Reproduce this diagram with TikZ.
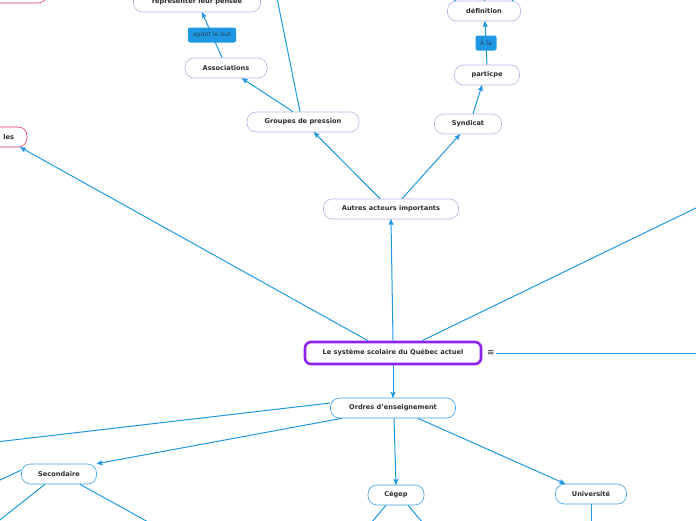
\documentclass[tikz,border=0pt]{standalone}
\usepackage{fontspec}
\setmainfont{DejaVu Sans}
\usetikzlibrary{arrows}
\definecolor{lineblue}{RGB}{30,152,226}
\definecolor{lavender}{RGB}{184,178,226}
\definecolor{boxblue}{RGB}{58,160,226}
\definecolor{hotpink}{RGB}{226,51,107}
\definecolor{violet}{RGB}{142,34,232}
\definecolor{ink}{RGB}{45,45,50}

\begin{document}
\begin{tikzpicture}[x=1pt, y=-1pt,
 topic/.style={draw=lavender, line width=.6pt, rounded corners=9pt, fill=white, minimum height=20pt, inner sep=0pt, text=ink, font=\bfseries\fontsize{6.6}{7}\selectfont},
 order/.style={topic, draw=boxblue},
 tag/.style={fill=lineblue, rounded corners=2pt, minimum height=15pt, inner sep=0pt, text=ink!80!lineblue, font=\fontsize{6.2}{7}\selectfont},
 link/.style={draw=lineblue, line width=1pt},
 arrow/.style={link, ->, >=stealth'}]
\useasboundingbox (0,0) rectangle (696,520);
\clip (0,0) rectangle (696,520);

% main topic
\node[topic, draw=violet, line width=2.6pt, rounded corners=6pt, minimum width=176pt, minimum height=22pt] (main) at (393,353) {Le système scolaire du Québec actuel};
\node[text=ink, font=\fontsize{9}{9}\selectfont, inner sep=1pt] (menu) at (491,353) {≡};
\coordinate (rightend) at (700,353);
\coordinate (upright) at (700,206);

% other actors
\node[topic, minimum width=135pt] (autres) at (391,209) {Autres acteurs importants};
\node[topic, minimum width=112pt] (groupes) at (303,122) {Groupes de pression};
\node[topic, minimum width=82pt] (assoc) at (226,68) {Associations};
\node[topic, minimum width=127pt] (penser) at (197,2) {représenter leur pensée};
\node[topic, minimum width=67pt] (syndicat) at (468,124) {Syndicat};
\node[topic, minimum width=65pt] (particpe) at (487,75) {particpe};
\node[topic, minimum width=73pt] (definition) at (484,11) {définition};
\node[topic, draw=hotpink, minimum width=114pt, text width=104pt, align=right] (ies) at (-30,137) {les\hspace*{8pt}};
\node[topic, draw=hotpink, minimum width=110pt] (toppink) at (-8,-7) {};
\coordinate (grouptop) at (277,-2);
\foreach \x/\n in {436/a,484/b,526/c}
 \coordinate (deftop\n) at (\x,-8);

% orders
\node[order, minimum width=125pt] (ordres) at (393,408) {Ordres d'enseignement};
\node[order, minimum width=75pt] (second) at (59,474) {Secondaire};
\node[order, minimum width=56pt] (cegep) at (396,495) {Cégep};
\node[order, minimum width=71pt] (univ) at (591,494) {Université};
\coordinate (ordleft) at (-4,442);
\coordinate (secleft) at (-4,482);
\coordinate (secdownl) at (-4,523);
\coordinate (secdownr) at (150,523);
\coordinate (cegdownl) at (371,523);
\coordinate (cegdownr) at (423,523);
\coordinate (univdown) at (591,523);

% connectors
\draw[arrow] (main.north) -- (autres.south);
\draw[arrow] ([xshift=-25pt]main.north) -- ([xshift=-7pt]ies.south east);
\draw[link] ([xshift=29pt]main.north) -- (upright);
\draw[link] (menu.east) -- (rightend);
\draw[arrow] (main.south) -- (ordres.north);

\draw[arrow] ([xshift=-11pt]autres.north) -- ([xshift=11pt]groupes.south);
\draw[arrow] ([xshift=11pt]autres.north) -- ([xshift=-8pt]syndicat.south);
\draw[arrow] ([xshift=-10pt]groupes.north) -- ([xshift=16pt]assoc.south);
\draw[link] ([xshift=-3pt]groupes.north) -- (grouptop);
\draw[arrow] ([xshift=-4pt]assoc.north) -- node[tag, minimum width=48pt] (but) {ayant le but} ([xshift=5pt]penser.south);
\draw[arrow] ([xshift=5pt]syndicat.north) -- ([xshift=-5pt]particpe.south);
\draw[arrow] (particpe.north) -- node[tag, minimum width=21pt] (ala) {À la} ([xshift=1pt]definition.south);
\draw[link] ([xshift=-28pt]definition.north) -- (deftopa);
\draw[link] (definition.north) -- (deftopb);
\draw[link] ([xshift=28pt]definition.north) -- (deftopc);

\draw[link] ([yshift=5pt]ordres.west) -- (ordleft);
\draw[arrow] ([xshift=-51pt]ordres.south) -- (second.north east);
\draw[arrow] ([xshift=1pt]ordres.south) -- (cegep.north);
\draw[arrow] ([xshift=25pt]ordres.south) -- ([xshift=-26pt]univ.north);
\draw[link] ([yshift=4pt]second.west) -- (secleft);
\draw[link] ([xshift=-14pt]second.south) -- (secdownl);
\draw[link] ([xshift=21pt]second.south) -- (secdownr);
\draw[link] ([xshift=-10pt]cegep.south) -- (cegdownl);
\draw[link] ([xshift=12pt]cegep.south) -- (cegdownr);
\draw[link] (univ.south) -- (univdown);
\end{tikzpicture}
\end{document}
